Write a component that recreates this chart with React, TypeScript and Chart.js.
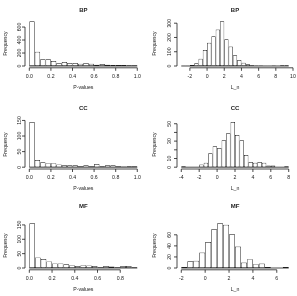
import { useEffect, useRef } from "react";
import { Chart, registerables } from "chart.js";

Chart.register(...registerables);

// P-value histograms: bins of width 0.05 starting at 0
const pStart = 0;
const pBinWidth = 0.05;
const bpPCounts = [690, 220, 103, 105, 77, 46, 62, 46, 46, 35, 46, 35, 20, 30, 18, 15, 15, 15, 10, 10];
const ccPCounts = [145, 23, 16, 13, 13, 9, 6, 6, 6, 3, 6, 3, 10, 3, 6, 6, 3, 2, 3, 3];
const mfPCounts = [156, 37, 31, 23, 16, 16, 13, 10, 7, 10, 9, 7, 3, 7, 5, 3, 7, 7, 3];

// L_n histograms: bins of width 0.5
const lnBinWidth = 0.5;
const bpLnStart = -3;
const bpLnCounts = [1, 2, 7, 19, 51, 112, 163, 209, 256, 314, 187, 136, 75, 42, 23, 12, 6, 4, 3, 2, 2, 3, 2, 5, 5];
const ccLnStart = -4;
const ccLnCounts = [1, 0, 0, 0, 3, 5, 16, 24, 22, 31, 39, 52, 37, 31, 14, 6, 5, 6, 5, 2, 2, 0, 0, 1];
const mfLnStart = -2;
const mfLnCounts = [2, 12, 13, 28, 47, 70, 81, 78, 61, 39, 10, 16, 7, 8, 2, 0, 0, 2];

// Axis ticks (an empty label marks a tick whose label is left out)
const pTicks = [0, 0.2, 0.4, 0.6, 0.8, 1.0];
const pTickLabels = ["0.0", "0.2", "0.4", "0.6", "0.8", "1.0"];
const mfPTicks = [0, 0.2, 0.4, 0.6, 0.8];
const mfPTickLabels = ["0.0", "0.2", "0.4", "0.6", "0.8"];
const bpLnTicks = [-2, 0, 2, 4, 6, 8, 10];
const ccLnTicks = [-4, -2, 0, 2, 4, 6, 8];
const mfLnTicks = [-2, 0, 2, 4, 6];
const bpPYTicks = [0, 200, 400, 600];
const bpPYLabels = ["0", "200", "400", "600"];
const bpLnYTicks = [0, 100, 200, 300];
const bpLnYLabels = ["0", "100", "200", "300"];
const ccPYTicks = [0, 50, 100, 150];
const ccPYLabels = ["0", "50", "100", "150"];
const ccLnYTicks = [0, 10, 20, 30, 40, 50];
const ccLnYLabels = ["0", "10", "", "30", "", "50"];
const mfPYTicks = [0, 50, 100, 150];
const mfPYLabels = ["0", "50", "100", "150"];
const mfLnYTicks = [0, 20, 40, 60];
const mfLnYLabels = ["0", "20", "40", "60"];

const FONT = "'Liberation Sans', Arial, Helvetica, sans-serif";
const INK = "#1c1c1c";

type PanelCfg = {
  title: string;
  xlab: string;
  start: number;
  binWidth: number;
  counts: number[];
  xTicks: number[];
  xTickLabels: string[];
  yTicks: number[];
  yTickLabels: string[];
  row: number;
  col: number;
};

const panels: PanelCfg[] = [
  { title: "BP", xlab: "P-values", start: pStart, binWidth: pBinWidth, counts: bpPCounts, xTicks: pTicks, xTickLabels: pTickLabels, yTicks: bpPYTicks, yTickLabels: bpPYLabels, row: 0, col: 0 },
  { title: "BP", xlab: "L_n", start: bpLnStart, binWidth: lnBinWidth, counts: bpLnCounts, xTicks: bpLnTicks, xTickLabels: bpLnTicks.map(String), yTicks: bpLnYTicks, yTickLabels: bpLnYLabels, row: 0, col: 1 },
  { title: "CC", xlab: "P-values", start: pStart, binWidth: pBinWidth, counts: ccPCounts, xTicks: pTicks, xTickLabels: pTickLabels, yTicks: ccPYTicks, yTickLabels: ccPYLabels, row: 1, col: 0 },
  { title: "CC", xlab: "L_n", start: ccLnStart, binWidth: lnBinWidth, counts: ccLnCounts, xTicks: ccLnTicks, xTickLabels: ccLnTicks.map(String), yTicks: ccLnYTicks, yTickLabels: ccLnYLabels, row: 1, col: 1 },
  { title: "MF", xlab: "P-values", start: pStart, binWidth: pBinWidth, counts: mfPCounts, xTicks: mfPTicks, xTickLabels: mfPTickLabels, yTicks: mfPYTicks, yTickLabels: mfPYLabels, row: 2, col: 0 },
  { title: "MF", xlab: "L_n", start: mfLnStart, binWidth: lnBinWidth, counts: mfLnCounts, xTicks: mfLnTicks, xTickLabels: mfLnTicks.map(String), yTicks: mfLnYTicks, yTickLabels: mfLnYLabels, row: 2, col: 1 },
];

// Page geometry of the 3x2 grid
const colLeft = [0, 148];
const colWidth = [148, 149];
const rowTop = [0, 99, 198];
const rowHeight = [99, 99, 98];
const plotLeftAbs = [25, 177];
const plotRightAbs = [141.6, 293];
const plotTopAbs = [19.4, 120.2, 221.4];
const plotBottomAbs = [67.8, 169, 269.8];
const titleYAbs = [10, 108.7, 206];
const yTickLabelXAbs = [20, 169.5];
const ylabXAbs = [5.8, 155];

const rAxesPlugin = {
  id: "rAxes",
  beforeDatasetsDraw(chart: any, _args: any, opts: any) {
    const { ctx, scales } = chart;
    const x = scales.x;
    const y = scales.y;
    const y0 = y.getPixelForValue(0);
    ctx.save();
    ctx.strokeStyle = INK;
    ctx.lineWidth = 0.8;
    ctx.beginPath();
    ctx.moveTo(x.getPixelForValue(opts.binLo), y0);
    ctx.lineTo(x.getPixelForValue(opts.binHi), y0);
    ctx.stroke();
    ctx.restore();
  },
  afterDraw(chart: any, _args: any, opts: any) {
    const { ctx, chartArea, scales } = chart;
    const x = scales.x;
    const y = scales.y;
    ctx.save();
    ctx.strokeStyle = INK;
    ctx.fillStyle = INK;
    ctx.lineWidth = 0.8;

    // x axis
    const xb = chartArea.bottom;
    const xt: number[] = opts.xTicks;
    ctx.beginPath();
    ctx.moveTo(x.getPixelForValue(xt[0]), xb);
    ctx.lineTo(x.getPixelForValue(xt[xt.length - 1]), xb);
    xt.forEach((v) => {
      const px = x.getPixelForValue(v);
      ctx.moveTo(px, xb);
      ctx.lineTo(px, xb + 3);
    });
    ctx.stroke();
    ctx.font = `5.2px ${FONT}`;
    ctx.textAlign = "center";
    ctx.textBaseline = "middle";
    xt.forEach((v, i) => {
      ctx.fillText(opts.xTickLabels[i], x.getPixelForValue(v), xb + 8.6);
    });
    ctx.fillText(opts.xlab, (chartArea.left + chartArea.right) / 2, xb + 19.8);

    // y axis
    const yl = chartArea.left;
    const yt: number[] = opts.yTicks;
    ctx.beginPath();
    ctx.moveTo(yl, y.getPixelForValue(yt[0]));
    ctx.lineTo(yl, y.getPixelForValue(yt[yt.length - 1]));
    yt.forEach((v) => {
      const py = y.getPixelForValue(v);
      ctx.moveTo(yl, py);
      ctx.lineTo(yl - 3, py);
    });
    ctx.stroke();
    yt.forEach((v, i) => {
      const label = opts.yTickLabels[i];
      if (!label) return;
      ctx.save();
      ctx.translate(opts.yTickLabelX, y.getPixelForValue(v));
      ctx.rotate(-Math.PI / 2);
      ctx.fillText(label, 0, 0);
      ctx.restore();
    });
    ctx.save();
    ctx.translate(opts.ylabX, (chartArea.top + chartArea.bottom) / 2);
    ctx.rotate(-Math.PI / 2);
    ctx.fillText("Frequency", 0, 0);
    ctx.restore();

    // title
    ctx.font = `bold 6px ${FONT}`;
    ctx.fillText(opts.title, (chartArea.left + chartArea.right) / 2, opts.titleY);
    ctx.restore();
  },
};

function HistPanel({ cfg }: { cfg: PanelCfg }) {
  const ref = useRef<HTMLCanvasElement | null>(null);
  const left = colLeft[cfg.col];
  const top = rowTop[cfg.row];
  const w = colWidth[cfg.col];
  const h = rowHeight[cfg.row];

  useEffect(() => {
    if (!ref.current) return;
    const lo = cfg.start;
    const hi = cfg.start + cfg.counts.length * cfg.binWidth;
    const pad = (hi - lo) * 0.04;
    const ymax = Math.max(...cfg.counts);
    const data = cfg.counts.map((c, i) => ({ x: cfg.start + (i + 0.5) * cfg.binWidth, y: c }));

    const chart = new Chart(ref.current, {
      type: "bar",
      data: {
        datasets: [
          {
            data,
            backgroundColor: "#ffffff",
            borderColor: INK,
            borderWidth: 0.7,
            borderSkipped: false,
            barPercentage: 1,
            categoryPercentage: 1,
            grouped: false,
            inflateAmount: 0,
          } as any,
        ],
      },
      options: {
        animation: false,
        responsive: false,
        maintainAspectRatio: false,
        events: [],
        layout: {
          padding: {
            left: plotLeftAbs[cfg.col] - left,
            right: left + w - plotRightAbs[cfg.col],
            top: plotTopAbs[cfg.row] - top,
            bottom: top + h - plotBottomAbs[cfg.row],
          },
        },
        scales: {
          x: { type: "linear", display: false, min: lo - pad, max: hi + pad, offset: false },
          y: { type: "linear", display: false, min: -0.04 * ymax, max: 1.04 * ymax },
        },
        plugins: {
          legend: { display: false },
          tooltip: { enabled: false },
          title: { display: false },
          rAxes: {
            binLo: lo,
            binHi: hi,
            xTicks: cfg.xTicks,
            xTickLabels: cfg.xTickLabels,
            yTicks: cfg.yTicks,
            yTickLabels: cfg.yTickLabels,
            xlab: cfg.xlab,
            title: cfg.title,
            titleY: titleYAbs[cfg.row] - top,
            yTickLabelX: yTickLabelXAbs[cfg.col] - left,
            ylabX: ylabXAbs[cfg.col] - left,
          },
        } as any,
      },
      plugins: [rAxesPlugin],
    });
    return () => chart.destroy();
  }, [cfg]);

  return (
    <canvas
      ref={ref}
      width={w}
      height={h}
      style={{ position: "absolute", left, top, width: w, height: h }}
    />
  );
}

export default function App() {
  return (
    <div style={{ position: "absolute", left: 0, top: 0, width: 297, height: 296, background: "#fff", overflow: "hidden" }}>
      {panels.map((p, i) => (
        <HistPanel key={i} cfg={p} />
      ))}
    </div>
  );
}
